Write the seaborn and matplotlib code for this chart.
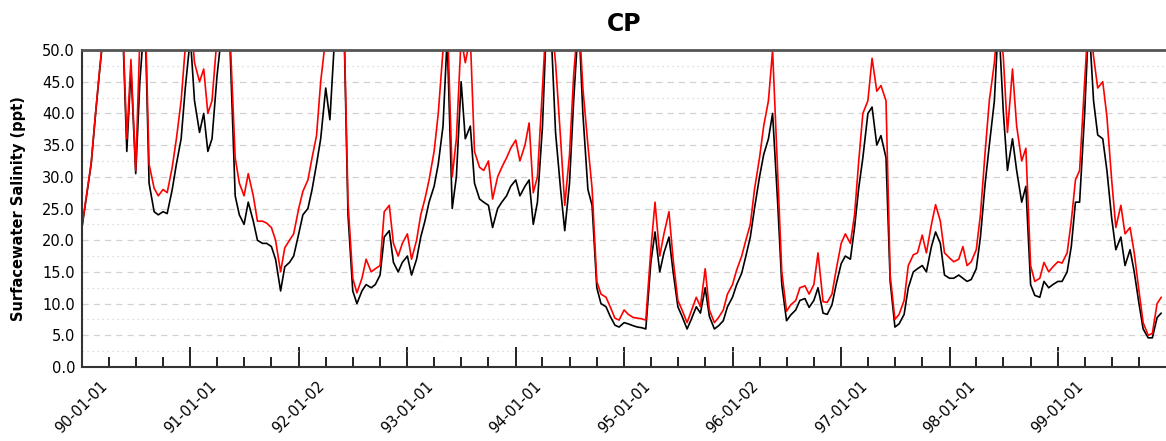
import matplotlib
matplotlib.use("Agg")
import matplotlib.pyplot as plt
import matplotlib.dates as mdates
import matplotlib.ticker as mticker
import numpy as np
import pandas as pd
import seaborn as sns

# semi-monthly readings (1st and 15th of each month), ppt
black_1990 = [22, 26.5, 32, 39.5, 46.5, 53, 58, 60, 60, 58, 34, 47, 30.5, 45, 56, 29, 24.5, 24, 24.5, 24.2, 28, 32, 36, 44]
red_1990 = [22.2, 26.7, 32.2, 39.7, 46.7, 53.5, 58.5, 60.5, 60.5, 58.5, 36, 48.5, 31, 52, 58, 32, 28.2, 27, 28, 27.5, 31.5, 36, 42, 50.5]
black_1991 = [52, 42, 37, 40, 34, 36, 46, 52, 58, 50, 27, 24, 22.5, 26, 23, 20, 19.5, 19.5, 19, 17, 12, 15.8, 16.5, 17.5]
red_1991 = [56, 48, 45, 47, 40, 42, 52, 56, 60, 52, 33, 29, 27, 30.5, 27, 23, 23, 22.7, 22, 20, 15, 18.8, 20, 21]
black_1992 = [21, 24, 25, 28, 32, 36, 44, 39, 52, 58, 55, 24, 12, 10, 12, 13, 12.5, 13, 14.5, 20.5, 21.5, 16.5, 15, 16.5]
red_1992 = [25, 27.7, 29.5, 33, 36.5, 45, 52, 50, 55, 60, 56, 26, 14, 11.7, 14, 17, 15, 15.5, 16, 24.5, 25.5, 19.5, 17.5, 19.5]
black_1993 = [17.5, 14.5, 17, 20.5, 23, 26, 28.5, 32, 38, 52, 25, 30, 45, 36, 38, 29, 26.5, 26, 25.5, 22, 25, 26, 27, 28.5]
red_1993 = [21, 17, 20, 24, 26.5, 29.5, 34, 40, 50, 56, 30, 36, 52, 48, 52, 34, 31.5, 31, 32.5, 26.5, 30, 31.5, 33, 34.5]
black_1994 = [29.5, 27, 28.5, 29.5, 22.5, 26, 38, 55, 52, 37, 28, 21.5, 29, 42, 55, 40, 28, 25.5, 12.5, 10, 9.5, 8, 6.6, 6.3]
red_1994 = [35.8, 32.5, 35, 38.5, 27.5, 30, 44, 56, 55, 48, 36, 25.5, 33.5, 46, 56, 44, 35, 28.2, 13.5, 11.5, 11, 9.5, 7.7, 7.4]
black_1995 = [7, 6.8, 6.5, 6.3, 6.2, 6.0, 16.5, 21.3, 15, 18, 20.5, 15, 9.5, 8, 6, 7.5, 9.5, 8.5, 12.5, 8, 6, 6.5, 7.3, 9.5]
red_1995 = [9, 8.3, 7.8, 7.7, 7.6, 7.4, 18.5, 26, 17.5, 21, 24.5, 17, 10.5, 9, 7, 8.8, 11, 9.5, 15.5, 9, 7, 7.8, 9, 11.5]
black_1996 = [11, 13, 14.8, 17.5, 20.5, 25, 30, 33.5, 36, 40, 26, 13, 7.3, 8.2, 9, 10.5, 10.8, 9.4, 10.5, 12.5, 8.5, 8.3, 9.8, 13]
red_1996 = [13, 15.3, 17.5, 20, 22.5, 28, 33, 38, 42, 50, 31, 15, 8.8, 9.8, 10.5, 12.5, 12.8, 11.5, 13, 18, 10.3, 10.2, 11.5, 15.3]
black_1997 = [16.3, 17.5, 17, 22, 28.2, 33, 40, 41, 35, 36.5, 33, 13.5, 6.3, 6.8, 8.3, 12.5, 15, 15.5, 16, 15, 19, 21.3, 19.5, 14.5]
red_1997 = [19.5, 21, 19.5, 24, 32.4, 40, 42, 48.7, 43.5, 44.4, 42, 14.5, 7.5, 8.3, 10.5, 16, 17.7, 18, 20.8, 18, 22.5, 25.6, 23, 18]
black_1998 = [14, 14, 14.5, 14, 13.5, 13.8, 15.5, 20.5, 29, 35, 42, 55, 40.3, 31, 36, 31, 26, 28.5, 13, 11.3, 11, 13.5, 12.5, 13]
red_1998 = [17.2, 16.6, 17, 19, 16, 16.6, 18.5, 24, 34, 42, 48, 56, 49, 37, 47, 38, 32.5, 34.5, 16, 13.5, 14, 16.5, 15, 15.8]
black_1999 = [13.5, 13.5, 15, 19, 26, 26, 40, 55, 42, 36.6, 36, 31, 23.5, 18.5, 20.5, 16, 18.5, 15, 10, 6, 4.6, 4.6, 7.8, 8.5]
red_1999 = [16.6, 16.4, 18, 23, 29.5, 31, 45, 56, 49, 44, 45, 39.5, 29.5, 22, 25.5, 21, 22, 18, 12, 7, 5, 5.3, 10, 11]

year_labels = ["90-01-01", "91-01-01", "92-01-02", "93-01-01", "94-01-01",
               "95-01-01", "96-01-02", "97-01-01", "98-01-01", "99-01-01"]

black_vals = (black_1990 + black_1991 + black_1992 + black_1993 + black_1994 +
              black_1995 + black_1996 + black_1997 + black_1998 + black_1999)
red_vals = (red_1990 + red_1991 + red_1992 + red_1993 + red_1994 +
            red_1995 + red_1996 + red_1997 + red_1998 + red_1999)
dates = pd.date_range("1990-01-01", "1999-12-15", freq="SMS")

df = pd.DataFrame({"date": dates, "run1": black_vals, "run2": red_vals})
long_df = df.melt(id_vars="date", var_name="run", value_name="salinity")

sns.set_style("white")
plt.rcParams.update({"text.color": "black", "axes.labelcolor": "black",
                     "xtick.color": "black", "ytick.color": "black"})

fig = plt.figure(figsize=(11.66, 4.41), dpi=100)
ax = fig.add_axes([0.0703, 0.1678, 0.9297, 0.7188])

sns.lineplot(data=long_df, x="date", y="salinity", hue="run",
             hue_order=["run1", "run2"],
             palette={"run1": "#000000", "run2": "#ff0000"},
             linewidth=1.2, legend=False, ax=ax)

ax.set_ylim(0, 50)
ax.set_xlim(pd.Timestamp("1990-01-01"), pd.Timestamp("1999-12-31"))

# y axis
ax.yaxis.set_major_locator(mticker.MultipleLocator(5))
ax.yaxis.set_minor_locator(mticker.MultipleLocator(2.5))
ax.yaxis.set_major_formatter(mticker.FormatStrFormatter("%.1f"))
ax.grid(False)
ax.yaxis.grid(True, which="major", linestyle=(0, (5, 4)), color="#d2d2d2", linewidth=0.9)
ax.yaxis.grid(True, which="minor", linestyle=(0, (1, 3)), color="#d2d2d2", linewidth=0.9)
ax.tick_params(axis="y", which="both", left=False, length=0, pad=5, labelsize=10.5)

# x axis
tick_dates = [pd.Timestamp("19" + s) for s in year_labels]
ax.set_xticks(tick_dates)
ax.set_xticklabels(year_labels, rotation=45, ha="center")
ax.xaxis.set_minor_locator(mdates.MonthLocator(bymonth=[4, 7, 10]))
ax.tick_params(axis="x", which="major", bottom=True, direction="in", length=14.4,
               width=1.3, pad=8, labelsize=10.5, color="#111111")
ax.tick_params(axis="x", which="minor", bottom=True, direction="in", length=7.2,
               width=1.3, color="#111111")

ax.set_xlabel("")
ax.set_ylabel("Surfacewater Salinity (ppt)", fontsize=10.5, fontweight="bold")
ax.yaxis.set_label_coords(-0.052, 0.5)
ax.set_title("CP", fontsize=17, fontweight="bold", pad=14)

for side in ["left", "bottom"]:
    ax.spines[side].set_color("#333333")
    ax.spines[side].set_linewidth(1.5)
ax.spines["top"].set_color("#555555")
ax.spines["top"].set_linewidth(2)
ax.spines["right"].set_visible(False)

fig.savefig("out.png", dpi=100)
